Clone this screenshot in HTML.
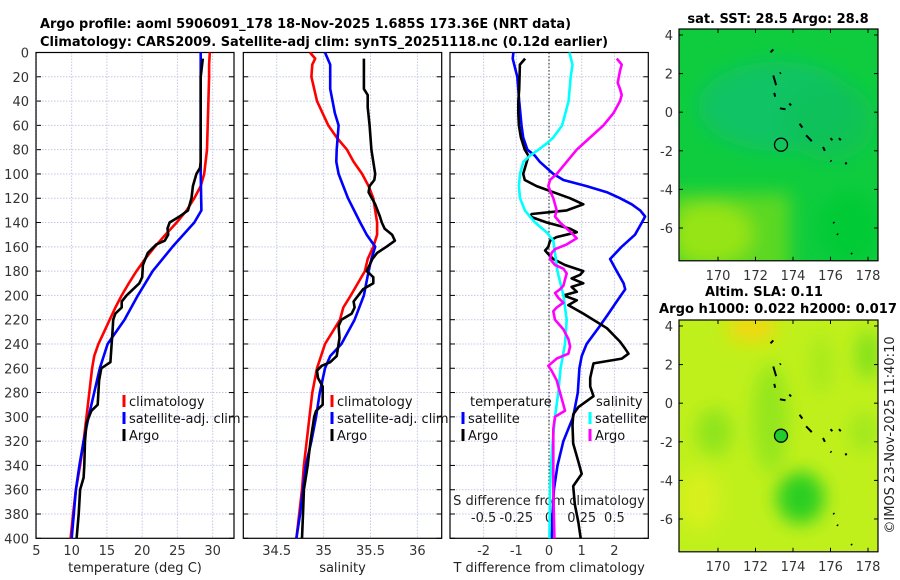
<!DOCTYPE html>
<html><head><meta charset="utf-8">
<style>
html,body{margin:0;padding:0;background:#fff;}
svg{display:block;font-family:"DejaVu Sans","Liberation Sans",sans-serif;}
</style></head>
<body>
<svg id="fig" width="900" height="580" viewBox="0 0 900 580" xmlns="http://www.w3.org/2000/svg">
<defs>
<filter id="blur6" x="-50%" y="-50%" width="200%" height="200%"><feGaussianBlur stdDeviation="9"/></filter>
<clipPath id="clipMap1"><rect x="679" y="29" width="199" height="232"/></clipPath>
<clipPath id="clipMap2"><rect x="679" y="320" width="199" height="231"/></clipPath>
</defs>
<text x="40" y="28" font-size="13" font-weight="bold" textLength="531" lengthAdjust="spacingAndGlyphs">Argo profile: aoml 5906091_178 18-Nov-2025 1.685S 173.36E (NRT data)</text>
<text x="40" y="46" font-size="13" font-weight="bold" textLength="568" lengthAdjust="spacingAndGlyphs">Climatology: CARS2009. Satellite-adj clim: synTS_20251118.nc (0.12d earlier)</text>
<g id="plots"></g>
<g id="maps"></g>
<text transform="translate(894,435) rotate(-90)" font-size="13" fill="#222" text-anchor="middle">©IMOS 23-Nov-2025 11:40:10</text>
</svg>
<script>
// ---------- DATA ----------
const tClimDepth = [0,10,20,40,60,80,100,110,120,130,140,150,160,170,180,190,200,210,220,230,240,250,260,280,300,320,340,360,380,400];
const tClimVal   = [29.6,29.5,29.5,29.4,29.3,29.2,28.8,28.3,27.4,26.3,24.9,23.3,21.8,20.4,19.2,18.1,17.1,16.2,15.4,14.6,13.8,13.2,12.9,12.5,12.1,11.7,11.2,10.6,10.2,9.85];
const tSatDepth  = [0,40,80,100,130,140,160,180,200,220,240,260,280,300,320,340,360,380,400];
const tSatVal    = [28.3,28.3,28.3,28.3,28.4,27.4,24.3,21.5,19.4,17.5,15.1,14.0,13.2,12.4,11.7,11.1,10.6,10.3,10.0];
const tArgoDepth = [5,20,60,90,95,100,110,120,130,135,140,145,150,155,158,165,175,185,190,195,200,205,210,215,220,230,238,255,260,270,290,295,305,320,340,350,360,380,400];
const tArgoVal   = [28.6,28.3,28.3,28.3,28.2,27.7,27.2,27.0,26.5,25.3,23.9,23.6,23.7,23.2,22.0,20.8,20.1,20.0,19.6,18.7,17.8,17.1,17.1,16.2,15.9,15.8,15.7,15.5,14.2,13.9,13.7,12.8,12.1,11.9,11.8,11.7,11.2,11.0,10.7];

const sClimDepth = [0,5,10,20,40,60,70,80,90,100,110,120,140,150,160,170,180,200,210,220,240,260,280,300,320,340,360,380,400];
const sClimVal   = [34.855,34.91,34.88,34.87,34.93,35.05,35.14,35.25,35.32,35.41,35.48,35.53,35.57,35.57,35.53,35.47,35.44,35.29,35.21,35.175,35.015,34.93,34.88,34.85,34.82,34.79,34.77,34.74,34.71];
const sSatDepth  = [0,10,30,50,60,80,90,100,110,120,140,150,160,170,180,200,220,240,250,260,280,300,320,340,360,380,400];
const sSatVal    = [35.015,35.07,35.07,35.12,35.16,35.14,35.135,35.16,35.21,35.26,35.39,35.46,35.55,35.51,35.48,35.43,35.33,35.19,35.07,35.015,34.96,34.92,34.87,34.81,34.78,34.75,34.71];
const sArgoDepth = [5,30,35,45,60,80,100,105,110,115,125,135,140,145,150,155,160,165,170,175,180,185,190,195,200,205,210,215,220,225,235,240,250,255,258,262,268,275,290,295,300,320,340,360,380,400];
const sArgoVal   = [35.43,35.43,35.47,35.47,35.49,35.51,35.55,35.54,35.49,35.48,35.55,35.6,35.62,35.65,35.73,35.76,35.67,35.57,35.52,35.49,35.46,35.53,35.53,35.42,35.37,35.32,35.33,35.30,35.19,35.16,35.17,35.16,35.14,35.07,34.98,34.93,34.94,34.99,34.99,34.92,34.90,34.86,34.83,34.79,34.78,34.77];

const dTSatDepth = [0,5,20,40,60,70,80,85,90,100,105,110,115,120,125,130,135,140,150,160,170,180,190,195,205,215,225,240,250,260,280,300,320,340,360,380,400];
const dTSatVal   = [-1.09,-1.11,-0.97,-0.91,-0.84,-0.79,-0.66,-0.43,-0.28,0.13,0.44,1.15,1.77,2.17,2.53,2.79,2.94,2.84,2.63,2.22,1.87,2.07,2.28,2.33,2.07,1.82,1.56,1.15,1.0,0.93,0.88,0.74,0.44,0.26,0.15,0.11,0.08];
const dTArgoDepth = [5,10,30,40,50,60,70,80,85,90,100,105,110,115,120,125,130,133,135,140,145,148,152,155,160,163,166,170,175,180,183,186,190,193,197,200,204,208,215,227,238,244,248,252,256,262,268,275,283,292,298,307,322,337,347,357,372,387,400];
const dTArgoVal   = [-0.73,-0.89,-0.91,-0.94,-0.94,-0.92,-0.86,-0.74,-0.63,-0.68,-0.79,-0.74,-0.38,0.13,0.64,1.05,0.54,-0.53,-0.58,-0.07,0.64,0.85,0.23,0.03,-0.02,-0.12,-0.02,0.13,0.49,1.05,0.95,0.69,1.05,0.69,0.85,0.44,0.85,0.59,1.05,1.77,2.17,2.33,2.43,2.23,1.36,1.31,1.26,1.26,1.36,0.90,0.74,0.72,0.74,0.90,1.0,0.74,0.79,0.90,0.97];
const dSSatDepth = [0,10,20,40,60,70,75,80,85,90,100,110,120,130,140,148,155,165,180,200,220,240,260,280,300,320,340,360,400];
const dSSatVal   = [0.156,0.18,0.166,0.15,0.10,0.033,-0.018,-0.08,-0.145,-0.196,-0.222,-0.23,-0.222,-0.184,-0.107,-0.018,0.033,0.046,0.064,0.110,0.135,0.122,0.089,0.071,0.046,0.028,0.015,0.008,0.003];
const dSArgoDepth = [5,10,15,25,30,35,40,50,60,70,80,90,100,105,110,115,120,125,130,135,140,145,150,153,158,162,165,170,175,178,182,187,192,195,198,202,206,210,213,220,228,236,242,248,252,258,262,270,280,290,295,300,310,320,340,360,400];
const dSArgoVal   = [0.518,0.556,0.543,0.525,0.543,0.556,0.543,0.492,0.416,0.314,0.212,0.135,0.059,0.008,-0.005,0.013,0.033,0.046,0.059,0.046,0.084,0.135,0.186,0.212,0.135,0.046,0.020,0.008,0.046,0.110,0.135,0.122,0.110,0.084,0.046,0.071,0.110,0.059,0.033,0.046,0.110,0.148,0.161,0.148,0.059,-0.005,0.020,0.059,0.084,0.110,0.122,0.046,0.033,0.033,0.033,0.033,0.041];

const depthTicks = [0,20,40,60,80,100,120,140,160,180,200,220,240,260,280,300,320,340,360,380,400];
const tTicks = [5,10,15,20,25,30];
const sTicks = [34.5,35,35.5,36];
const sTickLabels = ["34.5","35","35.5","36"];
const dTTicks = [-2,-1,0,1,2];
const dSTicks = [-0.5,-0.25,0,0.25,0.5];
const dSTickLabels = ["-0.5","-0.25","0","0.25","0.5"];
const lonTicks = [170,172,174,176,178];
const latTicks = [4,2,0,-2,-4,-6];
const floatLon = 173.36, floatLat = -1.685;

// ---------- SCALES ----------
const NS = "http://www.w3.org/2000/svg";
const yTop = 52.5, yBot = 538.3;
const yP = p => yTop + p * 1.2145;
const xT = t => 36.4 + (t - 5) * 7.05;
const xS = s => 276.7 + (s - 34.5) * 93.8;
const xD = d => 549 + d * 32.7;
const xDS = s => xD(s * 4);
const mx = lon => 679 + (lon - 167.92) * 18.75;
const my1 = lat => 29 + (4.31 - lat) * 19.3;
const my2 = lat => 320 + (4.31 - lat) * 19.3;

const plots = document.getElementById('plots');
const maps = document.getElementById('maps');
function mk(tag, attrs, parent) {
  const e = document.createElementNS(NS, tag);
  for (const k in attrs) e.setAttribute(k, attrs[k]);
  (parent || plots).appendChild(e);
  return e;
}
function txt(str, attrs, parent) { const e = mk('text', attrs, parent); e.textContent = str; return e; }

const panels = [
  {name:'temperature-panel', x0:36, x1:234, ticks:tTicks.map(xT), labels:tTicks.map(String), xlabel:'temperature (deg C)'},
  {name:'salinity-panel', x0:243.3, x1:441.7, ticks:sTicks.map(xS), labels:sTickLabels, xlabel:'salinity'},
  {name:'difference-panel', x0:450, x1:648.3, ticks:dTTicks.map(xD), labels:dTTicks.map(String), xlabel:'T difference from climatology'}
];

panels.forEach(pn => {
  const g = mk('g', {});
  
  
  depthTicks.forEach(d => {
    if (d > 0 && d < 400) {
      const l = mk('line', {x1:pn.x0, x2:pn.x1, y1:yP(d), y2:yP(d), stroke:'#c4c8e4', 'stroke-width':1, 'stroke-dasharray':'1.5,1.5'}, g);
      
      
    }
    mk('line', {x1:pn.x0, x2:pn.x0+5, y1:yP(d), y2:yP(d), stroke:'#000'}, g);
    mk('line', {x1:pn.x1-5, x2:pn.x1, y1:yP(d), y2:yP(d), stroke:'#000'}, g);
  });
  pn.ticks.forEach((x, i) => {
    const l = mk('line', {x1:x, x2:x, y1:yTop, y2:yBot, stroke:'#c4c8e4', 'stroke-width':1, 'stroke-dasharray':'1.5,1.5'}, g);
    
    
    const t = txt(pn.labels[i], {x:x, y:555, 'font-size':13, fill:'#333', 'text-anchor':'middle'}, g);
    
    
  });
  const xl = txt(pn.xlabel, {x:(pn.x0+pn.x1)/2, y:572, 'font-size':13, fill:'#222', 'text-anchor':'middle'}, g);
  
  
  const fr = mk('rect', {x:pn.x0, y:yTop, width:pn.x1-pn.x0, height:yBot-yTop, fill:'none', stroke:'#000', 'stroke-width':1.2}, g);
  
  
});

depthTicks.forEach(d => {
  const t = txt(String(d), {x:29, y:yP(d)+5, 'font-size':13, fill:'#333', 'text-anchor':'end'});
  
  
});

const zl = mk('line', {x1:xD(0), x2:xD(0), y1:yTop, y2:yBot, stroke:'#222', 'stroke-width':1, 'stroke-dasharray':'1.5,2'});



dSTicks.forEach((s, i) => {
  const t = txt(dSTickLabels[i], {x:xDS(s), y:522, 'font-size':13, fill:'#222', 'text-anchor':'middle'});
  
  
});
const sdl = txt('S difference from climatology', {x:549, y:505, 'font-size':13, fill:'#222', 'text-anchor':'middle'});



function series(depths, vals, xf, color, name) {
  const pts = depths.map((d, i) => xf(vals[i]).toFixed(1) + ',' + yP(d).toFixed(1)).join(' ');
  const pl = mk('polyline', {points:pts, fill:'none', stroke:color, 'stroke-width':2.6, 'stroke-linejoin':'round'});
  
  
}
series(tClimDepth, tClimVal, xT, '#ff0000', 'temperature-climatology-line');
series(tSatDepth, tSatVal, xT, '#0000ff', 'temperature-satellite-line');
series(tArgoDepth, tArgoVal, xT, '#000000', 'temperature-argo-line');
series(sClimDepth, sClimVal, xS, '#ff0000', 'salinity-climatology-line');
series(sSatDepth, sSatVal, xS, '#0000ff', 'salinity-satellite-line');
series(sArgoDepth, sArgoVal, xS, '#000000', 'salinity-argo-line');
series(dTSatDepth, dTSatVal, xD, '#0000ff', 't-diff-satellite-line');
series(dTArgoDepth, dTArgoVal, xD, '#000000', 't-diff-argo-line');
series(dSSatDepth, dSSatVal, xDS, '#00ffff', 's-diff-satellite-line');
series(dSArgoDepth, dSArgoVal, xDS, '#ff00ff', 's-diff-argo-line');

function legendEntry(x, y, color, label) {
  const r = mk('rect', {x:x-1.5, y:y-11, width:3, height:12, fill:color});
  
  
  const t = txt(label, {x:x+5, y:y, 'font-size':13, fill:'#111'});
  
  
}
legendEntry(124, 406, '#ff0000', 'climatology');
legendEntry(124, 423, '#0000ff', 'satellite-adj. clim');
legendEntry(124, 440, '#000000', 'Argo');
legendEntry(332, 406, '#ff0000', 'climatology');
legendEntry(332, 423, '#0000ff', 'satellite-adj. clim');
legendEntry(332, 440, '#000000', 'Argo');
const lt = txt('temperature', {x:470, y:406, 'font-size':13, fill:'#111'});


const ls = txt('salinity', {x:596, y:406, 'font-size':13, fill:'#111'});


legendEntry(463, 423, '#0000ff', 'satellite');
legendEntry(463, 440, '#000000', 'Argo');
legendEntry(590, 423, '#00ffff', 'satellite');
legendEntry(590, 440, '#ff00ff', 'Argo');

// ---------- MAPS ----------
const coast = [[172.8,3.1,172.95,3.25],[172.95,1.9,173.1,1.4],[173.0,1.0,173.05,0.8],[173.3,0.2,173.6,0.15],[173.8,0.45,173.9,0.35],[174.35,-0.6,174.5,-0.8],[174.7,-1.2,175.0,-1.5],[175.6,-1.8,175.7,-2.0],[176.0,-1.35,176.1,-1.45],[176.45,-1.35,176.55,-1.45],[176.0,-2.5,176.05,-2.55],[176.8,-2.6,176.85,-2.7],[176.15,-5.7,176.2,-5.75],[176.35,-6.3,176.4,-6.35],[177.1,-7.3,177.15,-7.35],[173.3,2.0,173.35,2.05]];

function drawMap(myf, clip, kind, name) {
  const g = mk('g', {'clip-path':'url(#'+clip+')'}, maps);
  
  
  const top = myf(4.31), bot = myf(-7.7);
  if (kind === 'sst') {
    mk('rect', {x:679, y:top, width:199, height:bot-top, fill:'#0ecc3e'}, g);
    const b = mk('g', {filter:'url(#blur6)'}, g);
    mk('ellipse', {cx:mx(173.2), cy:myf(0.3), rx:80, ry:45, fill:'#0cc070', opacity:0.75}, b);
    mk('ellipse', {cx:mx(176), cy:myf(-0.5), rx:45, ry:40, fill:'#0cc058', opacity:0.7}, b);
    mk('rect', {x:670, y:myf(-4.2), width:120, height:90, fill:'#5cd820'}, b);
    mk('ellipse', {cx:mx(169.6), cy:myf(-6.3), rx:42, ry:30, fill:'#96e418'}, b);
    mk('ellipse', {cx:mx(177), cy:myf(-6), rx:30, ry:35, fill:'#06ca34'}, b);
  } else {
    mk('rect', {x:679, y:top, width:199, height:bot-top, fill:'#c0f01c'}, g);
    const b = mk('g', {filter:'url(#blur6)'}, g);
    mk('ellipse', {cx:mx(171.8), cy:myf(3.9), rx:25, ry:15, fill:'#f0d810'}, b);
    mk('ellipse', {cx:mx(169.8), cy:myf(-1.5), rx:18, ry:24, fill:'#8ee41c'}, b);
    mk('ellipse', {cx:mx(172.8), cy:myf(-0.8), rx:18, ry:55, fill:'#94e61c'}, b);
    mk('ellipse', {cx:mx(174.4), cy:myf(-4.9), rx:24, ry:26, fill:'#2ccf20'}, b);
    mk('ellipse', {cx:mx(175.5), cy:myf(2), rx:12, ry:30, fill:'#a8ea1c'}, b);
    mk('ellipse', {cx:mx(178), cy:myf(2.5), rx:12, ry:25, fill:'#80e01c'}, b);
    mk('ellipse', {cx:mx(177.8), cy:myf(-1.5), rx:15, ry:20, fill:'#a0e81c'}, b);
    mk('ellipse', {cx:mx(169), cy:myf(-5), rx:20, ry:30, fill:'#d8f01a'}, b);
  }
  coast.forEach(c => {
    const l = mk('line', {x1:mx(c[0]), y1:myf(c[1]), x2:mx(c[2]), y2:myf(c[3]), stroke:'#000', 'stroke-width':2}, g);
    
    
  });
  const fc = mk('circle', {cx:mx(floatLon), cy:myf(floatLat), r:6.5, fill: kind === 'sst' ? 'none' : '#22cc2a', stroke:'#000', 'stroke-width':1.3}, g);
  
  
  mk('rect', {x:679, y:top, width:199, height:bot-top, fill:'none', stroke:'#000', 'stroke-width':1.2}, maps);
  lonTicks.forEach(lon => {
    mk('line', {x1:mx(lon), x2:mx(lon), y1:bot, y2:bot-4, stroke:'#000'}, maps);
    mk('line', {x1:mx(lon), x2:mx(lon), y1:top, y2:top+4, stroke:'#000'}, maps);
    const t = txt(String(lon), {x:mx(lon), y:bot+19, 'font-size':13, fill:'#333', 'text-anchor':'middle'}, maps);
    
    
  });
  latTicks.forEach(lat => {
    mk('line', {x1:679, x2:683, y1:myf(lat), y2:myf(lat), stroke:'#000'}, maps);
    mk('line', {x1:874, x2:878, y1:myf(lat), y2:myf(lat), stroke:'#000'}, maps);
    const t = txt(String(lat), {x:673, y:myf(lat)+5, 'font-size':13, fill:'#333', 'text-anchor':'end'}, maps);
    
    
  });
}
drawMap(my1, 'clipMap1', 'sst', 'sst-map');
drawMap(my2, 'clipMap2', 'sla', 'sla-map');

const mt1 = txt('sat. SST: 28.5 Argo: 28.8', {x:778, y:23, 'font-size':13, 'font-weight':'bold', 'text-anchor':'middle'}, maps);


const mt2 = txt('Altim. SLA: 0.11', {x:764, y:296, 'font-size':13, 'font-weight':'bold', 'text-anchor':'middle'}, maps);


const mt3 = txt('Argo h1000: 0.022 h2000: 0.017', {x:659, y:313, 'font-size':13, 'font-weight':'bold', textLength:238, lengthAdjust:'spacingAndGlyphs'}, maps);


</script>
</body></html>
